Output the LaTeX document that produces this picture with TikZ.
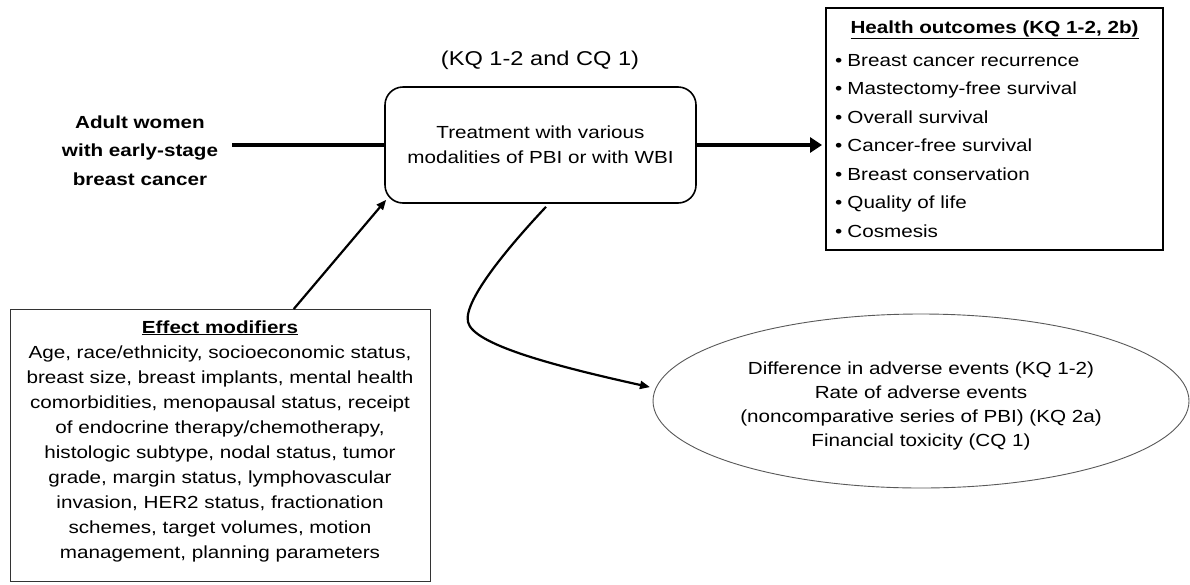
\documentclass[tikz,border=0pt]{standalone}
\usepackage{fontspec}
\setmainfont{Liberation Sans}[FakeStretch=1.18]
\usetikzlibrary{arrows.meta,calc,shapes.geometric}
\begin{document}
\begin{tikzpicture}[x=1pt,y=-1pt,
  txt/.style={font=\fontsize{17.5}{25}\selectfont, align=center, inner sep=0pt},
  thinarrow/.style={line width=2.2pt, -{Triangle[length=10pt,width=8pt]}},
  thickline/.style={line width=3.5pt},
  frame/.style={draw, inner sep=0pt}
]
\useasboundingbox (0,0) rectangle (1190,584);
\fill[white] (0,0) rectangle (1190,584);

% title
\node[txt, font=\fontsize{20}{24}\selectfont] (title) at (540,60) {(KQ 1-2 and CQ 1)};

% treatment
\node[frame, txt, line width=1.6pt, rounded corners=18pt, minimum width=311pt, minimum height=116pt] (t) at (540.5,145)
  {Treatment with various\\modalities of PBI or with WBI};

% population
\node[txt, font=\bfseries\fontsize{17.5}{28.5}\selectfont] (a) at (140,150.5)
  {Adult women\\with early-stage\\breast cancer};

% health outcomes
\node[frame, line width=2pt, minimum width=337pt, minimum height=242pt, anchor=north west] (h) at (825,7) {};
\node[txt, font=\bfseries\fontsize{17.5}{25}\selectfont] (hh) at ($(h.north)+(0,23)$) {\underline{Health outcomes (KQ 1-2, 2b)}};
\node[txt, align=left, font=\fontsize{17.5}{28.5}\selectfont, anchor=west] (hi) at (835,146)
  {•\hspace{5pt}Breast cancer recurrence\\
   •\hspace{5pt}Mastectomy-free survival\\
   •\hspace{5pt}Overall survival\\
   •\hspace{5pt}Cancer-free survival\\
   •\hspace{5pt}Breast conservation\\
   •\hspace{5pt}Quality of life\\
   •\hspace{5pt}Cosmesis};

% effect modifiers
\node[frame, draw=black!80, line width=1pt, minimum width=420pt, minimum height=272pt, anchor=north west] (em) at (10,309) {};
\node[txt] (emt) at (220,441)
  {\underline{\textbf{Effect modifiers}}\\
   Age, race/ethnicity, socioeconomic status,\\
   breast size, breast implants, mental health\\
   comorbidities, menopausal status, receipt\\
   of endocrine therapy/chemotherapy,\\
   histologic subtype, nodal status, tumor\\
   grade, margin status, lymphovascular\\
   invasion, HER2 status, fractionation\\
   schemes, target volumes, motion\\
   management, planning parameters};

% adverse events
\node[ellipse, draw=black!65, line width=0.9pt, minimum width=536pt, minimum height=174pt, inner sep=0pt] (e) at (921,401) {};
\node[txt, font=\fontsize{17.5}{24}\selectfont] (et) at (921,406)
  {Difference in adverse events (KQ 1-2)\\
   Rate of adverse events\\
   (noncomparative series of PBI) (KQ 2a)\\
   Financial toxicity (CQ 1)};

% connectors
\draw[thickline] ([xshift=14pt]a.east |- t.west) -- (t.west);
\draw[thickline, -{Triangle[length=12pt,width=15pt]}, shorten >=3pt] (t.east) -- (t.east -| h.west);
\draw[thinarrow] ($(em.north west)!0.674!(em.north east)$) -- ([shift={(2,-4)}]t.south west);
\coordinate (turn) at (468,322);
\draw[thinarrow] ([shift={(5.5,3)}]t.south) .. controls (512,243) and (463,300) .. (turn)
  .. controls (473,344) and (550,365) .. ([xshift=-6pt]e.177);
\end{tikzpicture}
\end{document}
